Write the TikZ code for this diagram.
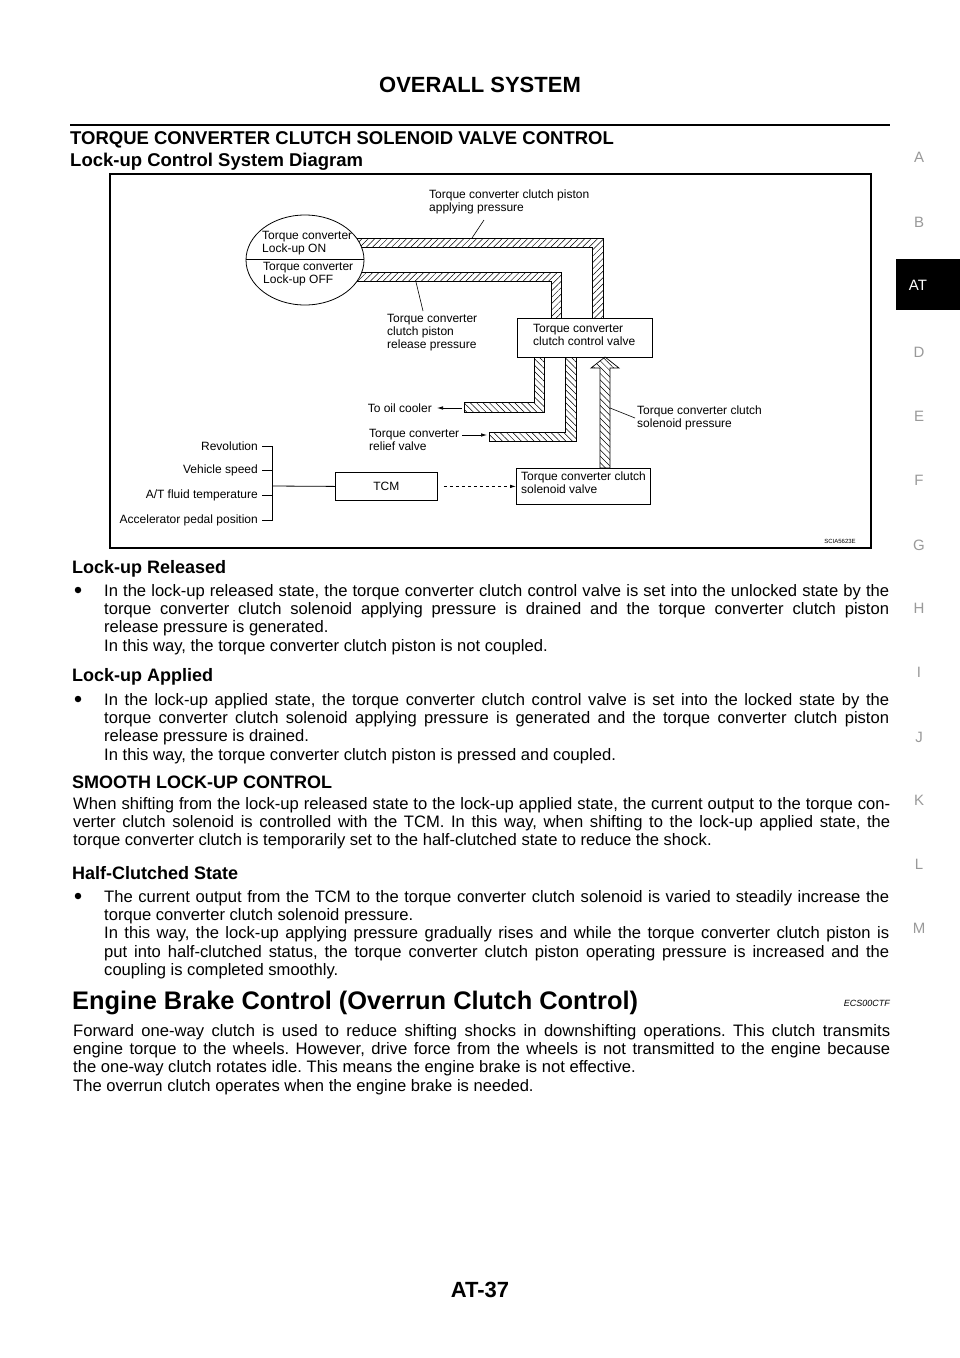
\documentclass[tikz,border=0pt]{standalone}
\usepackage{fontspec}
\setmainfont{Liberation Sans}
\usepackage{xcolor}
\usetikzlibrary{positioning,arrows.meta,patterns.meta}
\definecolor{tabgray}{gray}{0.6}
\newcommand{\bodyfont}{\fontsize{16.6}{18.3}\selectfont}
\frenchspacing

\begin{document}
\begin{tikzpicture}[
    x=1pt, y=-1pt,
    lbl/.style={inner sep=0pt, font=\fontsize{12}{13}\selectfont, align=left},
    box/.style={rectangle, draw, line width=0.8pt, inner sep=0pt},
    pipeup/.style={draw, line width=0.7pt, pattern={Lines[angle=45,distance=4.5pt,line width=0.5pt]}},
    pipedn/.style={draw, line width=0.7pt, pattern={Lines[angle=-45,distance=4.5pt,line width=0.5pt]}},
    arrow/.style={-{Latex[length=6pt,width=3.5pt]}, line width=0.7pt},
    tab/.style={inner sep=0pt, text=tabgray, font=\fontsize{15}{15}\selectfont},
    head/.style={anchor=base west, inner sep=0pt, font=\fontsize{18}{18}\selectfont\bfseries},
    para/.style={anchor=north west, inner sep=0pt, text width=817pt, align=justify, font=\bodyfont},
    bpara/.style={anchor=north west, inner sep=0pt, text width=785pt, align=justify, font=\bodyfont},
    bullet/.style={circle, fill, inner sep=0pt, minimum size=6.5pt}
]
    \useasboundingbox (0,0) rectangle (960,1358);
    \fill[white] (0,0) rectangle (960,1358);

    % Page header
    \node[inner sep=0pt, font=\fontsize{22}{22}\selectfont\bfseries] (title) at (480,85) {OVERALL SYSTEM};
    \draw[line width=2pt] (70,125) -- (890,125);

    % Side tabs
    \fill[black] (896,259) rectangle (960,310);
    \node[inner sep=0pt, text=white, font=\fontsize{15}{15}\selectfont] (tabat) at (918,285) {AT};
    \foreach \letter/\ypos in {A/157,B/222,D/352,E/416,F/480,G/545,H/608,I/672,J/737,K/800,L/864,M/928}
        \node[tab] (tab\letter) at (919,\ypos) {\letter};

    % Headings
    \node[head, font=\fontsize{18.5}{18.5}\selectfont\bfseries] (hmain) at (70,144) {TORQUE CONVERTER CLUTCH SOLENOID VALVE CONTROL};
    \node[head, font=\fontsize{18.5}{18.5}\selectfont\bfseries] (hdiag) at (70,166) {Lock-up Control System Diagram};

    % Diagram frame
    \draw[line width=1.2pt] (110,174) rectangle (871,548);

    % Pipes
    \path[pipeup] (352,238) -- (603,238) -- (603,318) -- (592,318) -- (592,247) -- (352,247) -- cycle;
    \path[pipeup] (352,272) -- (561,272) -- (561,318) -- (551,318) -- (551,281) -- (352,281) -- cycle;
    \path[pipedn] (544,357) -- (544,412) -- (464,412) -- (464,402) -- (534,402) -- (534,357) -- cycle;
    \path[pipedn] (576,357) -- (576,441) -- (489,441) -- (489,432) -- (565,432) -- (565,357) -- cycle;
    \path[pipedn] (600,468) -- (600,368) -- (591,368) -- (605,357) -- (619,368) -- (610,368) -- (610,468) -- cycle;

    % Nodes
    \draw[line width=0.8pt, fill=white] (305,260) ellipse [x radius=59, y radius=45];
    \draw[line width=0.8pt] (246,259) -- (364,259);
    \node[lbl, anchor=north west] (lockon) at (262,231) {Torque converter\\Lock-up ON};
    \node[lbl, anchor=north west] (lockoff) at (263,262) {Torque converter\\Lock-up OFF};

    \node[lbl, anchor=north west] (applylbl) at (429,190) {Torque converter clutch piston\\applying pressure};
    \node[lbl, anchor=north west] (releaselbl) at (387,314) {Torque converter\\clutch piston\\release pressure};

    \node[box, minimum width=135pt, minimum height=39pt, anchor=north west] (ctrlvalve) at (517,318) {};
    \node[lbl, anchor=north west] (ctrltext) at (533,324) {Torque converter\\clutch control valve};

    \node[box, minimum width=134pt, minimum height=36pt, anchor=north west] (solvalve) at (516,468) {};
    \node[lbl, anchor=north west] (soltext) at (521,472) {Torque converter clutch\\solenoid valve};

    \node[box, minimum width=102pt, minimum height=28pt, anchor=north west] (tcm) at (335,472) {};
    \node[lbl] (tcmtext) at (tcm.center) {TCM};

    \node[lbl, anchor=east] (cooler) at (432,408) {To oil cooler};
    \node[lbl, anchor=north west] (relief) at (369,429) {Torque converter\\relief valve};
    \node[lbl, anchor=north west] (solpress) at (637,406) {Torque converter clutch\\solenoid pressure};

    \node[lbl, anchor=east] (rev) at (258,446) {Revolution};
    \node[lbl, anchor=east] (vspeed) at (258,470) {Vehicle speed};
    \node[lbl, anchor=east] (fluid) at (258,495) {A/T fluid temperature};
    \node[lbl, anchor=east] (accel) at (258,520) {Accelerator pedal position};
    \coordinate (brk) at (272,486);

    \node[inner sep=0pt, font=\fontsize{6}{6}\selectfont] (code) at (840,541) {SCIA5623E};

    % Arrows and leaders
    \draw[line width=0.6pt] (484,220) -- (472,238);
    \draw[line width=0.6pt] (423,311) -- (416,282);
    \draw[line width=0.6pt] (635,418) -- (610,408);
    \draw[arrow] (462,408) -- ([xshift=5pt]cooler.east);
    \draw[arrow] (462,435) -- (487,435);
    \draw[arrow, dashed] ([xshift=6pt]tcm.east) -- (solvalve.west);
    \draw[line width=0.8pt] (262,446) -- (272,446) -- (272,520) -- (262,520);
    \draw[line width=0.8pt] (262,470) -- (272,470);
    \draw[line width=0.8pt] (262,495) -- (272,495);
    \draw[line width=0.8pt] (brk) -- (tcm.west);

    % Text blocks
    \node[head] (hrel) at (72,573) {Lock-up Released};
    \node[bullet] (brel) at (78,590) {};
    \node[bpara] (prel) at (104,584) {In the lock-up released state, the torque converter clutch control valve is set into the unlocked state by the\linebreak torque converter clutch solenoid applying pressure is drained and the torque converter clutch piston\linebreak release pressure is generated.\newline In this way, the torque converter clutch piston is not coupled.};

    \node[head] (happ) at (72,681) {Lock-up Applied};
    \node[bullet] (bapp) at (78,699) {};
    \node[bpara] (papp) at (104,693) {In the lock-up applied state, the torque converter clutch control valve is set into the locked state by the\linebreak torque converter clutch solenoid applying pressure is generated and the torque converter clutch piston\linebreak release pressure is drained.\newline In this way, the torque converter clutch piston is pressed and coupled.};

    \node[head] (hsmooth) at (72,788) {SMOOTH LOCK-UP CONTROL};
    \node[para] (psmooth) at (73,797) {When shifting from the lock-up released state to the lock-up applied state, the current output to the torque con-\linebreak verter clutch solenoid is controlled with the TCM. In this way, when shifting to the lock-up applied state, the\linebreak torque converter clutch is temporarily set to the half-clutched state to reduce the shock.};

    \node[head] (hhalf) at (72,879) {Half-Clutched State};
    \node[bullet] (bhalf) at (78,896) {};
    \node[bpara] (phalf) at (104,890) {The current output from the TCM to the torque converter clutch solenoid is varied to steadily increase the\linebreak torque converter clutch solenoid pressure.\newline In this way, the lock-up applying pressure gradually rises and while the torque converter clutch piston is\linebreak put into half-clutched status, the torque converter clutch piston operating pressure is increased and the\linebreak coupling is completed smoothly.};

    \node[head, font=\fontsize{25.4}{25.4}\selectfont\bfseries] (hengine) at (72,1009) {Engine Brake Control (Overrun Clutch Control)};
    \node[anchor=base east, inner sep=0pt, font=\fontsize{9}{9}\selectfont\itshape] (ecs) at (890,1006) {ECS00CTF};
    \node[para] (pengine) at (73,1024) {Forward one-way clutch is used to reduce shifting shocks in downshifting operations. This clutch transmits\linebreak engine torque to the wheels. However, drive force from the wheels is not transmitted to the engine because\linebreak the one-way clutch rotates idle. This means the engine brake is not effective.\newline The overrun clutch operates when the engine brake is needed.};

    % Page footer
    \node[inner sep=0pt, font=\fontsize{22}{22}\selectfont\bfseries] (pageno) at (480,1290) {AT-37};
\end{tikzpicture}
\end{document}
